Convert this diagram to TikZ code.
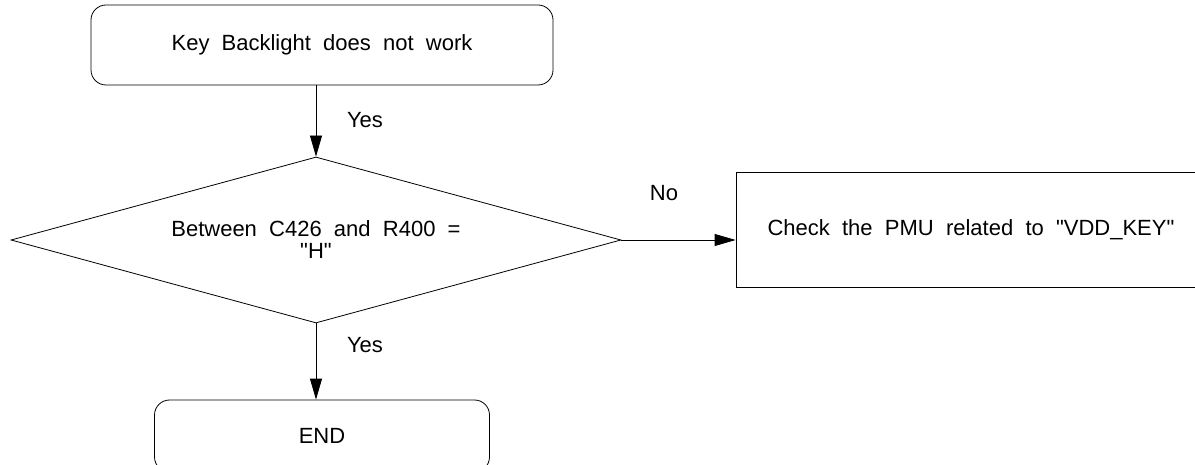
\documentclass[tikz,border=0pt]{standalone}
\usepackage{fontspec}
\setmainfont{Liberation Sans}[WordSpace=2, Ligatures=TeXOff]
\usetikzlibrary{shapes.geometric,arrows.meta}
\begin{document}
\begin{tikzpicture}[x=1pt,y=-1pt, line width=0.8pt, font=\fontsize{22}{22}\selectfont,
  rbox/.style={draw, rounded corners=15pt, inner sep=0pt},
  pbox/.style={draw, inner sep=0pt},
  dec/.style={draw, diamond, aspect=3.675, inner sep=0pt, align=center},
  arr/.style={-{Triangle[length=21pt,width=12pt]}},
  lbl/.style={inner sep=0pt}]
\useasboundingbox (0,0) rectangle (1195,465);
\node[rbox, minimum width=462pt, minimum height=80pt] (start) at (322,45) {Key Backlight does not work};
\node[dec, minimum width=610pt, minimum height=166pt] (check) at (316,240) {Between C426 and R400 =\\"H"};
\node[pbox, minimum width=470pt, minimum height=115pt] (pmu) at (971,229.5) {Check the PMU related to "VDD\_KEY"};
\node[rbox, minimum width=335pt, minimum height=72pt] (end) at (322,436) {END};
\draw[arr] (check.north |- start.south) -- (check.north);
\draw[arr] (check.east) -- (pmu.west |- check.east);
\draw[arr] (check.south) -- (check.south |- end.north);
\node[lbl] (y1) at (365,120) {Yes};
\node[lbl] (n1) at (664,193) {No};
\node[lbl] (y2) at (365,345) {Yes};
\end{tikzpicture}
\end{document}
